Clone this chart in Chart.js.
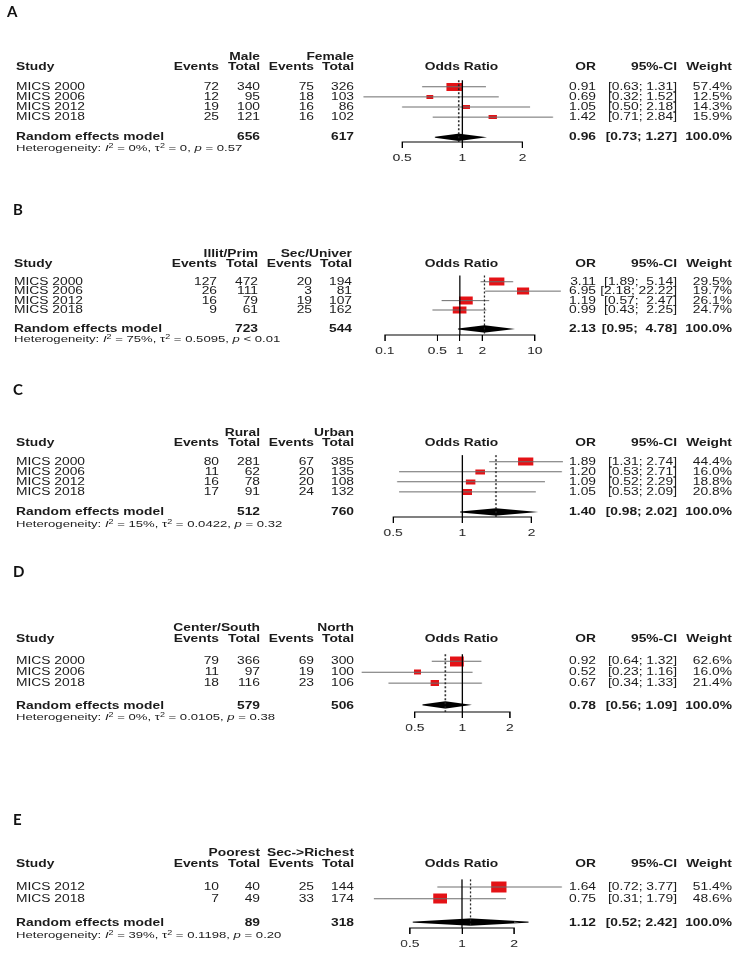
<!DOCTYPE html>
<html>
<head>
<meta charset="utf-8">
<script src="https://cdn.jsdelivr.net/npm/chart.js"></script>
<style>
  html, body { margin: 0; padding: 0; background: #fff; }
  body { width: 746px; height: 961px; overflow: hidden; position: relative; }
  #fig { position: absolute; left: 0; top: 0; width: 541px; height: 961px; transform-origin: 0 0;
         font-family: 'Liberation Sans', Arial, sans-serif; font-size: 10px; color: #1b1b1b; }
  .t { position: absolute; white-space: pre; line-height: 12px; }
  .l { transform: translate(0, -50%); }
  .r { transform: translate(-100%, -50%); }
  .c { transform: translate(-50%, -50%); }
  .b { font-weight: bold; }
  .het { font-size: 9.5px; }
  .het sup { font-size: 6.5px; position: relative; top: -3px; vertical-align: baseline; }
  .letter { position: absolute; font-family: Lato, 'Liberation Sans', sans-serif; font-weight: 700;
            font-size: 15px; color: #111; transform: translate(0, -50%); }
  canvas { position: absolute; }
</style>
</head>
<body>
<div id="fig"></div>
<script>
// the original figure is stretched horizontally, so is this one
const S = 1.38;

// A - sex
const studiesA = ['MICS 2000', 'MICS 2006', 'MICS 2012', 'MICS 2018'];
const groupsA = ['Male', 'Female'];
const eventsA1 = [72, 12, 19, 25];
const totalA1 = [340, 95, 100, 121];
const eventsA2 = [75, 18, 16, 16];
const totalA2 = [326, 103, 86, 102];
const orA = [0.91, 0.69, 1.05, 1.42];
const lowerA = [0.63, 0.32, 0.50, 0.71];
const upperA = [1.31, 1.52, 2.18, 2.84];
const weightA = [57.4, 12.5, 14.3, 15.9];
const pooledA = [0.96, 0.73, 1.27];
const sumA = [656, 617];
const hetA = ['0%', '0', '= 0.57'];
const ticksA = [0.5, 1, 2];

// B - education
const studiesB = ['MICS 2000', 'MICS 2006', 'MICS 2012', 'MICS 2018'];
const groupsB = ['Illit/Prim', 'Sec/Univer'];
const eventsB1 = [127, 26, 16, 9];
const totalB1 = [472, 111, 79, 61];
const eventsB2 = [20, 3, 19, 25];
const totalB2 = [194, 81, 107, 162];
const orB = [3.11, 6.95, 1.19, 0.99];
const lowerB = [1.89, 2.18, 0.57, 0.43];
const upperB = [5.14, 22.22, 2.47, 2.25];
const weightB = [29.5, 19.7, 26.1, 24.7];
const pooledB = [2.13, 0.95, 4.78];
const sumB = [723, 544];
const hetB = ['75%', '0.5095', '< 0.01'];
const ticksB = [0.1, 0.5, 1, 2, 10];

// C - residence
const studiesC = ['MICS 2000', 'MICS 2006', 'MICS 2012', 'MICS 2018'];
const groupsC = ['Rural', 'Urban'];
const eventsC1 = [80, 11, 16, 17];
const totalC1 = [281, 62, 78, 91];
const eventsC2 = [67, 20, 20, 24];
const totalC2 = [385, 135, 108, 132];
const orC = [1.89, 1.20, 1.09, 1.05];
const lowerC = [1.31, 0.53, 0.52, 0.53];
const upperC = [2.74, 2.71, 2.29, 2.09];
const weightC = [44.4, 16.0, 18.8, 20.8];
const pooledC = [1.40, 0.98, 2.02];
const sumC = [512, 760];
const hetC = ['15%', '0.0422', '= 0.32'];
const ticksC = [0.5, 1, 2];

// D - region
const studiesD = ['MICS 2000', 'MICS 2006', 'MICS 2018'];
const groupsD = ['Center/South', 'North'];
const eventsD1 = [79, 11, 18];
const totalD1 = [366, 97, 116];
const eventsD2 = [69, 19, 23];
const totalD2 = [300, 100, 106];
const orD = [0.92, 0.52, 0.67];
const lowerD = [0.64, 0.23, 0.34];
const upperD = [1.32, 1.16, 1.33];
const weightD = [62.6, 16.0, 21.4];
const pooledD = [0.78, 0.56, 1.09];
const sumD = [579, 506];
const hetD = ['0%', '0.0105', '= 0.38'];
const ticksD = [0.5, 1, 2];

// E - wealth
const studiesE = ['MICS 2012', 'MICS 2018'];
const groupsE = ['Poorest', 'Sec->Richest'];
const eventsE1 = [10, 7];
const totalE1 = [40, 49];
const eventsE2 = [25, 33];
const totalE2 = [144, 174];
const orE = [1.64, 0.75];
const lowerE = [0.72, 0.31];
const upperE = [3.77, 1.79];
const weightE = [51.4, 48.6];
const pooledE = [1.12, 0.52, 2.42];
const sumE = [89, 318];
const hetE = ['39%', '0.1198', '= 0.20'];
const ticksE = [0.5, 1, 2];

const panels = [
  { letter: 'A', studies: studiesA, groups: groupsA, e1: eventsA1, n1: totalA1, e2: eventsA2, n2: totalA2,
    or: orA, lo: lowerA, hi: upperA, w: weightA, pooled: pooledA, sums: sumA, het: hetA, ticks: ticksA },
  { letter: 'B', studies: studiesB, groups: groupsB, e1: eventsB1, n1: totalB1, e2: eventsB2, n2: totalB2,
    or: orB, lo: lowerB, hi: upperB, w: weightB, pooled: pooledB, sums: sumB, het: hetB, ticks: ticksB },
  { letter: 'C', studies: studiesC, groups: groupsC, e1: eventsC1, n1: totalC1, e2: eventsC2, n2: totalC2,
    or: orC, lo: lowerC, hi: upperC, w: weightC, pooled: pooledC, sums: sumC, het: hetC, ticks: ticksC },
  { letter: 'D', studies: studiesD, groups: groupsD, e1: eventsD1, n1: totalD1, e2: eventsD2, n2: totalD2,
    or: orD, lo: lowerD, hi: upperD, w: weightD, pooled: pooledD, sums: sumD, het: hetD, ticks: ticksD },
  { letter: 'E', studies: studiesE, groups: groupsE, e1: eventsE1, n1: totalE1, e2: eventsE2, n2: totalE2,
    or: orE, lo: lowerE, hi: upperE, w: weightE, pooled: pooledE, sums: sumE, het: hetE, ticks: ticksE }
];

// page layout, in screen pixels
const layouts = [
  { letterX: 7,  letterY: 11,  grpY: 57,    headY: 67,    rowY: 86.5,  step: 10.1,  poolY: 137,   hetY: 147.5, axisY: 141.7, axL: 402.3, axR: 522.7, box: [15, 8],     dx: 0 },
  { letterX: 13, letterY: 209, grpY: 254,   headY: 263.5, rowY: 281.7, step: 9.45,  poolY: 328.5, hetY: 338.5, axisY: 335,   axL: 385,   axR: 535,   box: [15, 8],     dx: -2 },
  { letterX: 13, letterY: 389, grpY: 432.7, headY: 442.7, rowY: 462,   step: 10.05, poolY: 512.3, hetY: 524,   axisY: 517.3, axL: 393.3, axR: 531.7, box: [15, 8.3],   dx: 0 },
  { letterX: 13, letterY: 571, grpY: 627.7, headY: 639.3, rowY: 661,   step: 10.9,  poolY: 706,   hetY: 716.5, axisY: 711.7, axL: 415,   axR: 510,   box: [13.5, 9.7], dx: 0 },
  { letterX: 13, letterY: 819, grpY: 852.7, headY: 864,   rowY: 887.3, step: 11.7,  poolY: 922.5, hetY: 935,   axisY: 928.3, axL: 410,   axR: 514.3, box: [14.5, 10.5], dx: 0 }
];

const fig = document.getElementById('fig');
fig.style.transform = 'scaleX(' + S + ')';

function text(str, x, y, cls, html) {
  const d = document.createElement('div');
  d.className = 't ' + cls;
  d.style.left = (x / S) + 'px';
  d.style.top = y + 'px';
  if (html) d.innerHTML = str; else d.textContent = str;
  fig.appendChild(d);
}

function makeBox(w, h) {
  const c = document.createElement('canvas');
  c.width = Math.max(2, Math.round(w));
  c.height = Math.max(2, Math.round(h));
  const g = c.getContext('2d');
  g.fillStyle = 'rgb(228,18,22)';
  g.fillRect(0, 0, c.width, c.height);
  return c;
}

function drawTable(p, L) {
  const dx = L.dx;
  const colL = 16 + dx, e1R = 219 + dx, n1R = 260 + dx, e2R = 314 + dx, n2R = 354 + dx;
  const orR = 596, ciR = 677, wR = 732, midX = 461.5;

  const letter = document.createElement('div');
  letter.className = 'letter';
  letter.textContent = p.letter;
  letter.style.left = L.letterX + 'px';
  letter.style.top = L.letterY + 'px';
  document.body.appendChild(letter);

  text(p.groups[0], n1R, L.grpY, 'r b');
  text(p.groups[1], n2R, L.grpY, 'r b');
  text('Study', colL, L.headY, 'l b');
  text('Events', e1R, L.headY, 'r b');
  text('Total', n1R, L.headY, 'r b');
  text('Events', e2R, L.headY, 'r b');
  text('Total', n2R, L.headY, 'r b');
  text('Odds Ratio', midX, L.headY, 'c b');
  text('OR', orR, L.headY, 'r b');
  text('95%-CI', ciR, L.headY, 'r b');
  text('Weight', wR, L.headY, 'r b');

  const hiW = Math.max(...p.hi.concat([p.pooled[2]]).map(v => v.toFixed(2).length));
  const ci = (l, h) => '[' + l.toFixed(2) + '; ' + h.toFixed(2).padStart(hiW) + ']';

  p.studies.forEach((s, i) => {
    const y = L.rowY + i * L.step;
    text(s, colL, y, 'l');
    text(String(p.e1[i]), e1R, y, 'r');
    text(String(p.n1[i]), n1R, y, 'r');
    text(String(p.e2[i]), e2R, y, 'r');
    text(String(p.n2[i]), n2R, y, 'r');
    text(p.or[i].toFixed(2), orR, y, 'r');
    text(ci(p.lo[i], p.hi[i]), ciR, y, 'r');
    text(p.w[i].toFixed(1) + '%', wR, y, 'r');
  });

  text('Random effects model', colL, L.poolY, 'l b');
  text(String(p.sums[0]), n1R, L.poolY, 'r b');
  text(String(p.sums[1]), n2R, L.poolY, 'r b');
  text(p.pooled[0].toFixed(2), orR, L.poolY, 'r b');
  text(ci(p.pooled[1], p.pooled[2]), ciR, L.poolY, 'r b');
  text('100.0%', wR, L.poolY, 'r b');

  text('Heterogeneity: <i>I</i><sup>2</sup> = ' + p.het[0] + ', \u03c4<sup>2</sup> = ' + p.het[1] +
       ', <i>p</i> ' + p.het[2], colL, L.hetY, 'l het', true);
}

function drawForest(p, L) {
  const CL = 330, CW = 180;               // canvas left (screen px) and width (css px, before stretch)
  const topRows = 0.65;
  const axisH = 6 + 12 + 2 * 4;            // tick length + label line + padding
  const chartTop = L.rowY - topRows * L.step;
  const H = Math.ceil(L.axisY + axisH + 4 - chartTop + 8);
  const CT = L.axisY + axisH + 4 - H;

  const canvas = document.createElement('canvas');
  canvas.width = CW;
  canvas.height = H;
  canvas.style.left = (CL / S) + 'px';
  canvas.style.top = CT + 'px';
  fig.insertBefore(canvas, fig.firstChild);

  const n = p.studies.length;
  const yMin = -topRows;
  const yMax = (L.axisY - L.rowY) / L.step;
  const pooledRow = n + 1;
  const dh = 3.2 / L.step;

  const datasets = [];
  // line of no effect
  datasets.push({ data: [{ x: 1, y: yMin }, { x: 1, y: yMax }], showLine: true,
    borderColor: '#000', borderWidth: 1, pointRadius: 0, clip: false });
  // pooled estimate
  datasets.push({ data: [{ x: p.pooled[0], y: yMin }, { x: p.pooled[0], y: yMax }], showLine: true,
    borderColor: '#222', borderWidth: 1, borderDash: [2, 2], pointRadius: 0, clip: false });
  // confidence intervals
  p.studies.forEach((s, i) => {
    datasets.push({ data: [{ x: p.lo[i], y: i }, { x: p.hi[i], y: i }], showLine: true,
      borderColor: '#6c6c6c', borderWidth: 1, pointRadius: 0, clip: false });
  });
  // weighted squares
  const wMax = Math.max(...p.w);
  const boxes = p.w.map(w => makeBox(L.box[0] * Math.sqrt(w / wMax) / S, L.box[1] * Math.sqrt(w / wMax)));
  const pts = p.or.map((v, i) => ({ x: v, y: i }));
  datasets.push({ data: pts, pointStyle: boxes, pointRadius: 5, clip: false });
  datasets.push({ data: pts, pointStyle: 'cross', pointRadius: 1.8, borderColor: '#3a0000', borderWidth: 1, clip: false });
  // pooled diamond
  datasets.push({
    data: [
      { x: p.pooled[1], y: pooledRow }, { x: p.pooled[0], y: pooledRow - dh },
      { x: p.pooled[2], y: pooledRow }, { x: p.pooled[0], y: pooledRow + dh },
      { x: p.pooled[1], y: pooledRow }
    ],
    showLine: true, fill: 'shape', backgroundColor: '#000', borderColor: '#000', borderWidth: 1,
    pointRadius: 0, tension: 0, clip: false
  });

  new Chart(canvas, {
    type: 'scatter',
    data: { datasets },
    options: {
      responsive: false,
      animation: false,
      devicePixelRatio: 2,
      events: [],
      layout: { padding: { left: (L.axL - CL) / S, right: (CL + CW * S - L.axR) / S, top: chartTop - CT, bottom: 4 } },
      plugins: { legend: { display: false }, tooltip: { enabled: false } },
      scales: {
        x: {
          type: 'logarithmic',
          position: 'bottom',
          min: p.ticks[0],
          max: p.ticks[p.ticks.length - 1],
          afterBuildTicks: ax => { ax.ticks = p.ticks.map(v => ({ value: v })); },
          ticks: {
            callback: v => String(v),
            autoSkip: false, maxRotation: 0, padding: 4, color: '#222',
            font: { family: "'Liberation Sans', Arial, sans-serif", size: 10 }
          },
          grid: { drawOnChartArea: false, drawTicks: true, tickLength: 6, color: '#000', lineWidth: 1 },
          border: { display: true, color: '#000', width: 1 }
        },
        y: { type: 'linear', display: false, reverse: true, min: yMin, max: yMax }
      }
    }
  });
}

panels.forEach((p, k) => {
  drawTable(p, layouts[k]);
  drawForest(p, layouts[k]);
});
</script>
</body>
</html>
